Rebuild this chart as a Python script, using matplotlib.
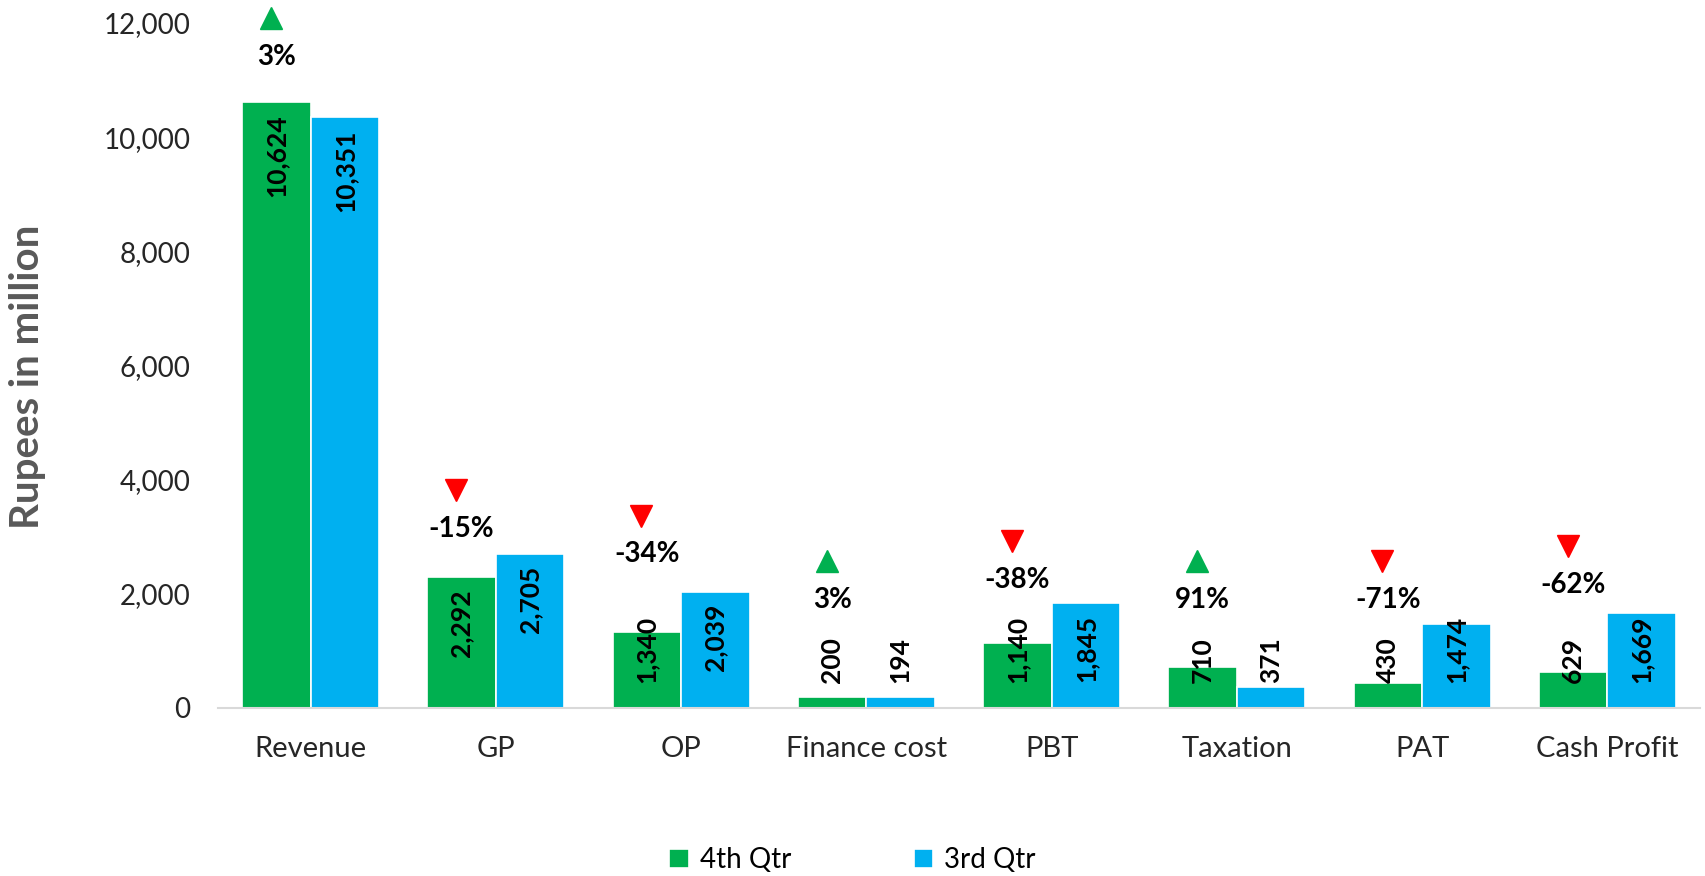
import matplotlib.pyplot as plt
import matplotlib.transforms as mtransforms
import numpy as np

plt.rcParams['font.family'] = ['Lato', 'DejaVu Sans']

categories = ['Revenue', 'GP', 'OP', 'Finance cost', 'PBT', 'Taxation', 'PAT', 'Cash Profit']
q4 = [10624, 2292, 1340, 200, 1140, 710, 430, 629]
q3 = [10351, 2705, 2039, 194, 1845, 371, 1474, 1669]
change_pct = [3, -15, -34, 3, -38, 91, -71, -62]
change_label_y = [11400, 3140, 2690, 1890, 2250, 1890, 1890, 2150]
yticks = [0, 2000, 4000, 6000, 8000, 10000, 12000]

GREEN = '#00B050'
BLUE = '#00B0F0'
RED = '#FF0000'

fig = plt.figure(figsize=(17.05, 8.76), dpi=100)
ax = fig.add_axes([218 / 1705, 1 - 708 / 876, (1700 - 218) / 1705, (708 - 23) / 876])

x = np.arange(len(categories))
w = 0.37
b4 = ax.bar(x - w / 2, q4, w, color=GREEN, edgecolor='white', linewidth=1.2, label='4th Qtr', zorder=2)
b3 = ax.bar(x + w / 2, q3, w, color=BLUE, edgecolor='white', linewidth=1.2, label='3rd Qtr', zorder=2)

ax.set_xlim(-0.5, len(categories) - 0.5)
ax.set_ylim(0, 12000)
ax.set_yticks(yticks)
ax.set_yticklabels([f'{v:,}' for v in yticks], fontsize=20, color='#262626')
ax.set_xticks(x)
ax.set_xticklabels(categories, fontsize=21, color='#262626')
ax.tick_params(axis='both', length=0)
ax.tick_params(axis='y', pad=20)
ax.tick_params(axis='x', pad=20)
for s in ['top', 'right', 'left']:
    ax.spines[s].set_visible(False)
ax.spines['bottom'].set_color('#D9D9D9')
ax.spines['bottom'].set_linewidth(1.5)

ax.set_ylabel('Rupees in million', fontsize=29, fontweight='bold', color='#595959')
ax.yaxis.set_label_coords(-(218 - 46) / (1700 - 218), 0.484)

# value labels inside the bars (moved to the base when the bar is too short)
labels = []
for xs, vals in [(x - w / 2, q4), (x + w / 2, q3)]:
    for xx, v in zip(xs, vals):
        t = ax.annotate(f'{v:,}', (xx, v), xytext=(0, -9), textcoords='offset points',
                        rotation=90, ha='center', va='top', fontsize=19,
                        fontweight='bold', color='black', zorder=3)
        labels.append((t, xx))

fig.canvas.draw()
r = fig.canvas.get_renderer()
axis_y = ax.transData.transform((0, 0))[1]
for t, xx in labels:
    bb = t.get_window_extent(r)
    if bb.y0 < axis_y + 25:
        t.xy = (xx, 0)
        t.xyann = (0, 18)
        t.set_va('bottom')

# change markers
tri_tr = mtransforms.offset_copy(ax.transData, fig=fig, x=-4, y=28, units='points')
for xx, p, ly in zip(x - w / 2, change_pct, change_label_y):
    ax.text(xx, ly, f'{p}%', ha='center', va='center', fontsize=20,
            fontweight='bold', color='black', clip_on=False)
    if p >= 0:
        ax.plot([xx], [ly], marker='^', markersize=16, color=GREEN, linestyle='none',
                transform=tri_tr, clip_on=False)
    else:
        ax.plot([xx], [ly], marker='v', markersize=16, color=RED, linestyle='none',
                transform=tri_tr, clip_on=False)

fig.legend(handles=[b4, b3], labels=['4th Qtr', '3rd Qtr'], loc='center',
           bbox_to_anchor=(0.5, 1 - 860 / 876), ncol=2, frameon=False, fontsize=20,
           handlelength=0.7, handleheight=0.7, handletextpad=0.4, columnspacing=4.4)

fig.savefig('out.png', dpi=100)
